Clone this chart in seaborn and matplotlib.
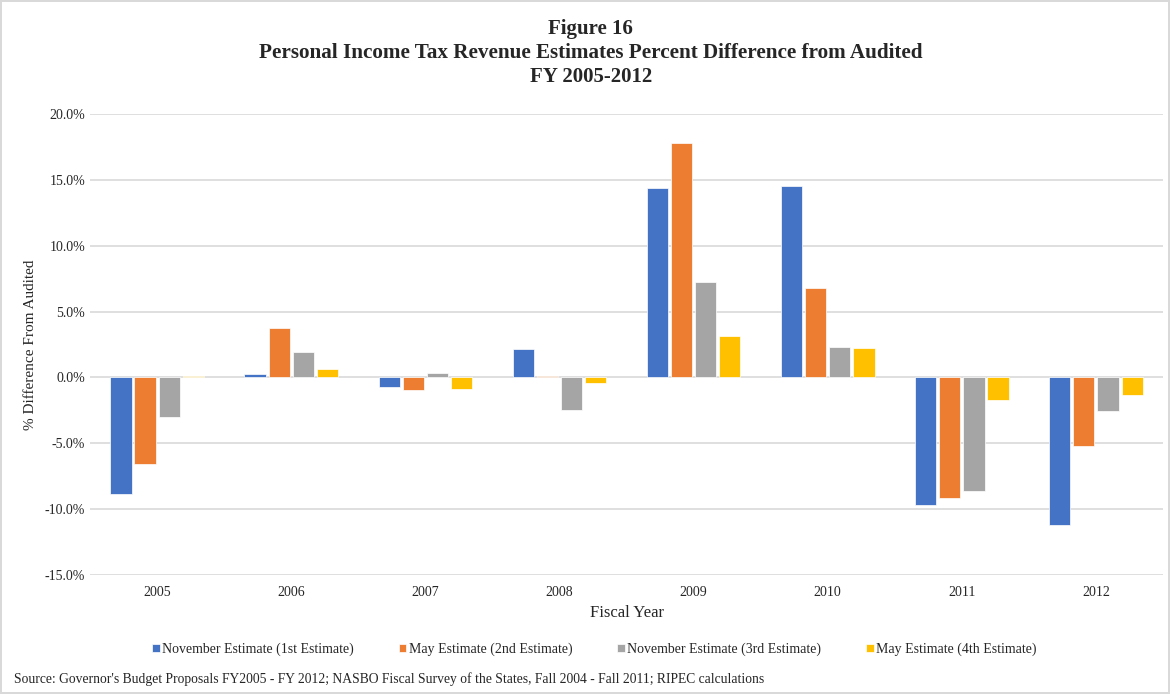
import matplotlib
matplotlib.use("Agg")
import matplotlib.pyplot as plt
import seaborn as sns
import pandas as pd
from matplotlib.ticker import FuncFormatter

years = ["2005", "2006", "2007", "2008", "2009", "2010", "2011", "2012"]
series_names = [
    "November Estimate (1st Estimate)",
    "May Estimate (2nd Estimate)",
    "November Estimate (3rd Estimate)",
    "May Estimate (4th Estimate)",
]
nov_1st = [-8.85, 0.23, -0.74, 2.18, 14.37, 14.57, -9.72, -11.22]
may_2nd = [-6.57, 3.73, -0.94, 0.08, 17.79, 6.80, -9.16, -5.18]
nov_3rd = [-3.02, 1.90, 0.30, -2.44, 7.21, 2.28, -8.65, -2.56]
may_4th = [0.13, 0.63, -0.86, -0.43, 3.12, 2.21, -1.75, -1.35]
colors = ["#4472C4", "#ED7D31", "#A5A5A5", "#FFC000"]

rows = []
for name, vals in zip(series_names, [nov_1st, may_2nd, nov_3rd, may_4th]):
    for y, v in zip(years, vals):
        rows.append({"year": y, "series": name, "value": v})
df = pd.DataFrame(rows)

sns.set_style("white")
plt.rcParams["font.family"] = ["Liberation Serif", "DejaVu Serif"]

fig = plt.figure(figsize=(11.7, 6.94), dpi=100)
fig.patch.set_edgecolor("#d9d9d9")
fig.patch.set_linewidth(1.5)
ax = fig.add_axes([0.077, 0.1715, 0.917, 0.6642])

sns.barplot(
    data=df, x="year", y="value", hue="series", order=years,
    hue_order=series_names, palette=colors, width=0.72, gap=0.12,
    saturation=1, edgecolor="white", linewidth=0.5, ax=ax,
)

ax.set_ylim(-15, 20)
ax.set_yticks(range(-15, 21, 5))
ax.yaxis.set_major_formatter(FuncFormatter(lambda v, _: f"{v:.1f}%"))
ax.grid(axis="y", color="#d9d9d9", linewidth=1.2)
ax.set_axisbelow(True)
for s in ax.spines.values():
    s.set_visible(False)
ax.tick_params(axis="both", length=0, labelsize=10, colors="#262626")
ax.tick_params(axis="x", pad=8)
ax.set_xlabel("Fiscal Year", fontsize=12, labelpad=4)
ax.set_ylabel("% Difference From Audited", fontsize=11, labelpad=6)

ax.legend(
    loc="upper center", bbox_to_anchor=(0.47, -0.12), ncol=4, frameon=False,
    fontsize=10, handlelength=0.55, handleheight=0.55, handletextpad=0.2,
    columnspacing=3.2,
)

fig.text(0.505, 0.958, "Figure 16", ha="center", va="center",
         fontsize=15, fontweight="bold")
fig.text(0.505, 0.923,
         "Personal Income Tax Revenue Estimates Percent Difference from Audited",
         ha="center", va="center", fontsize=15.2, fontweight="bold")
fig.text(0.505, 0.889, "FY 2005-2012", ha="center", va="center",
         fontsize=15, fontweight="bold")
fig.text(0.012, 0.021,
         "Source: Governor's Budget Proposals FY2005 - FY 2012; NASBO Fiscal Survey of the States, "
         "Fall 2004 - Fall 2011; RIPEC calculations",
         ha="left", va="center", fontsize=9.8)

fig.savefig("out.png", dpi=100)
